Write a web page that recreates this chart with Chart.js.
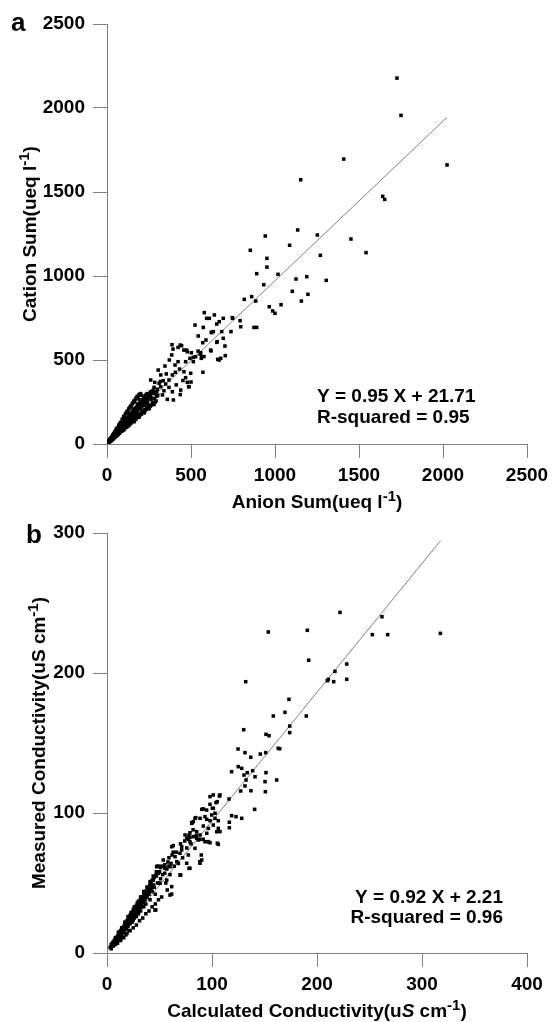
<!DOCTYPE html>
<html>
<head>
<meta charset="utf-8">
<script src="https://cdn.jsdelivr.net/npm/chart.js@4.4.1/dist/chart.umd.min.js"></script>
<style>
  body { margin: 0; background: #fff; }
  .panel { position: absolute; left: 0; width: 552px; }
</style>
</head>
<body>
<div class="panel" style="top:0;height:518px"><canvas id="plotA"></canvas></div>
<div class="panel" style="top:518px;height:504px"><canvas id="plotB"></canvas></div>
<script>
// Panel a: suma de aniones vs suma de cationes (ueq l-1)
let anionSum = [
  1726,1750,1409,1153,2024,1641,1653,942,1135,1252,
  1452,1087,1542,952,1270,952,1018,1189,933,1125,
  1305,1103,1196,1157,966,986,1000,1036,853,891,
  861,817,885,748,792,796,875,891,746,692,
  639,609,579,668,653,593,524,573,633,623,
  683,738,692,656,589,570,543,702,619,677,
  704,659,571,621,653,617,667,436,423,393,
  385,458,478,502,528,558,564,494,514,468,
  423,405,345,371,432,407,458,498,305,353,
  320,389,369,260,284,310,335,349,468,478,
  488,439,395,359,389,369,339,320,300,280,
  280,260,244,561,577,542,554,436,486,500,
  387,444,474,514,412,452,330,296,272,318,
  5,8,8,10,12,14,15,17,18,20,
  21,23,24,26,27,29,30,32,33,35,
  36,38,39,41,42,44,45,47,48,50,
  52,54,55,57,58,60,62,64,65,67,
  68,70,72,74,75,77,78,80,82,84,
  85,87,88,90,92,94,95,97,99,101,
  103,105,107,109,111,113,115,117,119,121,
  123,125,128,130,132,135,137,140,142,145,
  147,150,153,156,158,161,164,167,170,173,
  176,180,183,186,190,194,198,202,206,210,
  215,220,225,230,236,242,248,255,262,60,
  90,120,150,180,210,240,70,100,130,160,
  190,220,110,140,170,200,230,46,76,106,
  136,166,196,226,116,146,176,206,236,126,
  156,186,216,246,162,192,222,252,270,282,
  292,302,262,276,296,242,256,31,56,81,
  111,141,171,201,231,261,64,94,124,154,
  20,25,30,35,40,45,50,55,60,65,
  70,75,80,85,90,95,100,105,110,115,
  120,125,130,135,140,145,150,155,160,165,
  170,175,180,185,190,195,200,205,210,215,
  220,225,230,235,240,245,250,258,265,272,
  278,285,226,232,238,212,218,196,202,184,
  40,52,63,74,86,97,108,119,131,143,
  155,167,178,189,201,213,224,235,247,258,
  30,40,50,60,70,80,90,100,110,120,
  130,140,150,160,170,180,190,200,35,55,
  75,95,115,135,155,175,195,65,85,105,
  125,145,165,185,205,45,25,15,12,18,
  100,130,160,190,220,250,280,60,90,120
];
let cationSum = [
  2178,1956,1696,1573,1661,1474,1456,1238,1274,1244,
  1220,1183,1139,1105,1123,1053,1010,996,948,982,
  974,909,891,851,817,792,778,829,1153,1014,
  877,861,851,748,734,698,694,694,752,748,
  768,748,782,728,714,748,708,694,669,663,
  669,669,629,609,619,603,643,583,554,510,
  526,504,427,665,605,559,500,589,575,565,
  530,559,549,543,520,543,520,510,490,490,
  490,470,464,500,446,427,430,421,440,417,
  411,411,381,381,367,361,377,357,395,367,
  341,321,262,266,311,337,317,341,326,337,
  302,311,292,510,520,553,535,294,341,369,
  591,585,559,516,352,378,292,284,318,372,
  8,6,12,14,10,18,14,22,16,25,
  19,28,22,31,26,36,28,38,31,43,
  34,46,37,49,40,53,43,57,45,61,
  48,65,51,69,55,73,58,77,61,81,
  64,86,67,89,71,94,73,98,77,103,
  80,107,83,111,86,116,89,121,93,126,
  97,131,100,135,104,141,108,146,111,151,
  115,157,120,163,124,169,128,176,133,183,
  137,191,142,197,147,205,151,211,157,217,
  162,225,169,233,175,241,181,251,189,259,
  195,269,205,279,213,291,223,301,231,66,
  99,131,163,197,227,259,77,109,141,176,
  206,241,119,151,186,216,249,49,81,116,
  146,179,211,231,129,171,206,236,271,111,
  139,169,191,213,133,161,186,216,246,271,
  256,291,266,301,311,241,271,33,59,85,
  117,149,183,214,244,276,70,101,133,165,
  26,20,38,27,50,38,58,47,70,56,
  82,64,95,76,104,82,121,92,128,100,
  142,108,154,117,166,126,178,134,190,142,
  200,150,214,160,222,170,236,178,245,186,
  256,196,266,206,282,214,292,226,302,238,
  312,248,285,292,300,262,274,255,262,238,
  44,57,69,81,95,108,121,133,147,161,
  174,188,201,214,228,242,256,269,282,296,
  45,62,78,95,112,128,146,165,180,196,
  210,226,240,256,268,284,292,300,55,88,
  118,150,185,215,246,275,296,94,126,160,
  188,220,250,270,290,68,38,24,20,30,
  85,112,138,162,190,210,235,52,78,104
];
// Recta de regresión (extremos)
let rectaAx = [5, 2024];
let rectaAy = [26.5, 1944.5];
let ticksA = [0, 500, 1000, 1500, 2000, 2500];
let ecuacionA = ['Y = 0.95 X + 21.71', 'R-squared = 0.95'];

// Panel b: conductividad calculada vs medida (uS cm-1)
let calculada = [
  221.9,153.6,190.8,261.9,252.7,267.3,317.5,192.1,228.3,217.1,
  210.8,209.8,215.9,228.3,173.3,169.5,158.4,189.8,174,174,
  151.4,154.3,164.5,151.1,146,132.1,130.2,124.8,131.4,136.9,
  163.1,118.7,125,128.3,133.6,138.7,130.5,151.4,141,132.4,
  131.4,137.1,127.3,150.5,161.6,150.8,116.2,98.1,101.2,107,
  105,91.7,100.3,102.9,99.7,118.7,122.9,128.3,140.6,93.3,
  95,98.1,102.9,106,88.6,84.5,91.7,96.5,101.2,106,
  116.5,116.5,80.7,83.8,79,74.3,75.9,79,82.2,85.4,
  88.6,93.3,96.5,98.1,106,63.1,71.1,79,88.6,95,
  104.5,107.6,103.8,98.1,101.3,94.9,90.2,107.6,105.1,96.5,
  91.7,82.2,80.7,85.4,87,77.4,83.8,90.2,88.6,77.4,
  71.1,69.5,64.8,66.4,79,69.5,60,53.6,55.2,47.3,
  48.9,50.5,56.9,60,61.6,44.1,41,37.8,34.6,31.4,
  45.7,25,61.6,47.9,55.2,59,70.2,78.1,75.9,88.3,
  89.8,61.6,57.4,49.5,44.8,40,38.4,46.4,35.2,32.1,
  3,4,4,5,5,6,6,7,7,8,
  8,9,9,10,10,11,11,12,12,13,
  13,14,14,15,15,16,16,17,17,18,
  18,19,19,20,20,21,21,22,22,23,
  23,24,24,25,25,26,26,27,27,28,
  28,29,29,30,30,31,32,32,33,33,
  34,35,35,36,37,37,38,39,40,41,
  42,43,44,45,46,47,48,50,51,53,
  55,56,58,60,62,64,66,68,70,72,
  74,76,78,80,82,85,11,14,17,20,
  23,26,29,31,34,36,38,9,12,15,
  18,21,24,27,30,33,16,19,22,25,
  28,31,34,26,29,32,35,39,41,43,
  5,7,9,11,13,15,17,19,21,23,
  25,27,29,31,33,35,37,39,41,43,
  6,8,10,12,14,16,18,20,22,24,
  26,28,30,32,34,36,38,40,42,44,
  45,47,49,51,53,55,57,59,61,63,
  10,13,16,19,22,25,28,31,34,37,
  10,13,16,19,22,25,28,31,34,37,
  40,43,46,49,52,8,12,15,18,21,
  8,11,14,17,20,23,26,29,32,35,
  38,41,44,47,50,24,27,30,33,36
];
let medida = [
  243.3,229.3,230.5,240.2,227.4,227.4,228.3,209.1,206.4,201.2,
  195.5,194.5,193.8,195.5,181.2,171.9,169.3,169.3,162.1,157.4,
  156.2,155.2,145.9,143.1,142.1,193.8,159.5,145.7,143.1,139.8,
  146.2,129.5,133.1,131.9,128.8,130.2,127.1,128.8,125.9,123.6,
  119.3,115.9,115.7,122.4,123.6,115.2,110,111.7,112.9,112.1,
  108.1,102.9,103.4,99.8,98.6,98.1,97.4,96.2,102.6,97.4,
  95.5,94.5,96.2,94.5,96.2,96.7,90.7,89,91.4,89,
  93.4,89.5,93.1,96.2,85.9,84.3,81.9,82.6,83.1,81.9,
  81.2,79.5,79.5,78.8,77.6,76.7,75.9,79.5,84.3,85.5,
  86.6,112.9,107.4,106.2,103.3,102.1,102.6,86.7,78.4,79.5,
  81.2,93.8,92.6,86.7,80.7,81.2,74.8,66.4,64.1,70,
  73.6,71.2,68.8,65.2,60.5,55.7,61.6,66.4,60.5,61.6,
  56.9,49.8,52.1,41.4,47.4,48.6,45,40.2,37.9,33.1,
  30.7,23.6,75.9,62.1,61.2,62.1,55.7,60.5,64.1,65.2,
  70,42.1,45,49.8,54.5,47.4,42.6,30.7,37.9,35.5,
  4,3,6,5,7,5,8,7,9,7,
  10,9,11,9,12,11,14,11,14,13,
  16,13,17,15,18,15,19,17,21,17,
  22,19,23,19,24,21,26,21,27,23,
  28,22,29,26,31,25,32,27,33,26,
  34,29,35,28,37,31,38,30,40,33,
  36,42,33,38,44,35,40,46,42,38,
  50,44,52,47,42,55,50,58,53,62,
  57,50,65,56,70,62,72,64,78,68,
  80,75,84,78,88,84,12,15,19,22,
  25,28,31,34,38,41,43,10,13,17,
  20,24,27,30,33,36,17,21,24,28,
  31,35,39,30,33,36,40,44,46,48,
  6,8,10,13,15,17,20,22,25,27,
  29,32,34,37,39,42,44,47,49,52,
  6,8,10,12,14,16,18,20,23,25,
  27,29,32,34,36,39,41,43,45,47,
  54,56,58,61,56,63,60,68,64,72,
  11,15,18,21,25,29,32,35,39,42,
  7,9,11,14,16,18,20,23,25,28,
  30,33,35,38,40,6,9,11,13,16,
  11,15,18,22,26,29,33,36,40,44,
  47,51,55,58,62,27,31,34,37,41
];
let rectaBx = [3, 317.8];
let rectaBy = [5, 294.6];
let ticksBx = [0, 100, 200, 300, 400];
let ticksBy = [0, 100, 200, 300];
let ecuacionB = ['Y = 0.92 X + 2.21', 'R-squared = 0.96'];

// Títulos de ejes (partes con superíndice / cursiva)
let tituloXA = [{t: 'Anion Sum(ueq l'}, {t: '-1', sup: true}, {t: ')'}];
let tituloYA = [{t: 'Cation Sum(ueq l'}, {t: '-1', sup: true}, {t: ')'}];
let tituloXB = [{t: 'Calculated Conductivity(u'}, {t: 'S', it: true}, {t: ' cm'}, {t: '-1', sup: true}, {t: ')'}];
let tituloYB = [{t: 'Measured Conductivity(uS cm'}, {t: '-1', sup: true}, {t: ')'}];

const FAMILIA = '"Liberation Sans", Arial, sans-serif';
let fuente = (tam, estilo = '') => `${estilo} bold ${tam}px ${FAMILIA}`;
let fuenteParte = p => p.sup ? fuente(15) : fuente(19, p.it ? 'italic' : '');

let anchoPartes = (ctx, partes) => partes.reduce((acc, p) => {
  ctx.font = fuenteParte(p);
  return acc + ctx.measureText(p.t).width;
}, 0);

let dibujarPartes = (ctx, partes, x, y) => {
  let cx = x;
  partes.forEach(p => {
    ctx.font = fuenteParte(p);
    ctx.fillText(p.t, cx, p.sup ? y - 7 : y);
    cx += ctx.measureText(p.t).width;
  });
};

// Plugin para letras de panel, títulos y ecuación
let textosPlugin = {
  id: 'textos',
  afterDraw: (chart, args, opts) => {
    let ctx = chart.ctx;
    let area = chart.chartArea;
    ctx.save();
    ctx.fillStyle = '#000';
    ctx.textAlign = 'left';
    ctx.textBaseline = 'alphabetic';

    ctx.font = fuente(26);
    ctx.fillText(opts.letra, opts.letraX, opts.letraY);

    let w = anchoPartes(ctx, opts.tituloX);
    dibujarPartes(ctx, opts.tituloX, (area.left + area.right) / 2 - w / 2, area.bottom + 64);

    w = anchoPartes(ctx, opts.tituloY);
    ctx.save();
    ctx.translate(opts.tituloYBase, (area.top + area.bottom) / 2);
    ctx.rotate(-Math.PI / 2);
    dibujarPartes(ctx, opts.tituloY, -w / 2, 0);
    ctx.restore();

    ctx.font = fuente(19);
    opts.ecuacion.forEach((linea, i) => {
      let lw = ctx.measureText(linea).width;
      let x = opts.alinear === 'right' ? area.left + opts.ecX - lw : area.left + opts.ecX;
      ctx.fillText(linea, x, area.bottom - opts.ecY[i]);
    });
    ctx.restore();
  }
};

let crearEje = (valores, alto) => {
  let eje = (vals, extra) => Object.assign({
    type: 'linear', min: vals[0], max: vals[vals.length - 1],
    afterBuildTicks: s => { s.ticks = vals.map(v => ({value: v})); },
    grid: {drawOnChartArea: false, tickLength: 14, color: '#808080', lineWidth: 1},
    border: {color: '#808080', width: 1}
  }, extra);
  let fuenteTicks = {family: FAMILIA, size: 19, weight: 'bold'};
  return {
    x: eje(valores.x, {
      ticks: {color: '#000', padding: 6, font: fuenteTicks, callback: v => String(v)},
      afterFit: s => { s.height = alto; s.paddingLeft = 0; s.paddingRight = 0; }
    }),
    y: eje(valores.y, {
      ticks: {color: '#000', padding: 8, font: fuenteTicks, callback: v => String(v)},
      afterFit: s => { s.width = 107; s.paddingTop = 0; s.paddingBottom = 0; }
    })
  };
};

let crearGrafico = (id, xs, ys, rx, ry, tx, ty, altoEjeX, padTop, textos) => {
  let puntos = xs.map((v, i) => ({x: v, y: ys[i]}));
  let recta = rx.map((v, i) => ({x: v, y: ry[i]}));
  return new Chart(document.getElementById(id), {
    type: 'scatter',
    data: {
      datasets: [
        {data: puntos, pointStyle: 'rect', pointRadius: 2.5, pointHoverRadius: 2.5,
         backgroundColor: '#000', borderWidth: 0},
        {data: recta, showLine: true, pointRadius: 0, borderColor: '#808080', borderWidth: 1}
      ]
    },
    options: {
      responsive: true,
      maintainAspectRatio: false,
      animation: false,
      events: [],
      layout: {padding: {top: padTop, right: 25, left: 0, bottom: 0}},
      scales: crearEje({x: tx, y: ty}, altoEjeX),
      plugins: {legend: {display: false}, tooltip: {enabled: false}, textos: textos}
    },
    plugins: [textosPlugin]
  });
};

crearGrafico('plotA', anionSum, cationSum, rectaAx, rectaAy, ticksA, ticksA, 74, 24, {
  letra: 'a', letraX: 11, letraY: 31,
  tituloX: tituloXA, tituloY: tituloYA, tituloYBase: 36,
  ecuacion: ecuacionA, alinear: 'left', ecX: 210, ecY: [42, 21]
});

crearGrafico('plotB', calculada, medida, rectaBx, rectaBy, ticksBx, ticksBy, 69, 15, {
  letra: 'b', letraX: 26, letraY: 25,
  tituloX: tituloXB, tituloY: tituloYB, tituloYBase: 45,
  ecuacion: ecuacionB, alinear: 'right', ecX: 396, ecY: [50, 30]
});
</script>
</body>
</html>
